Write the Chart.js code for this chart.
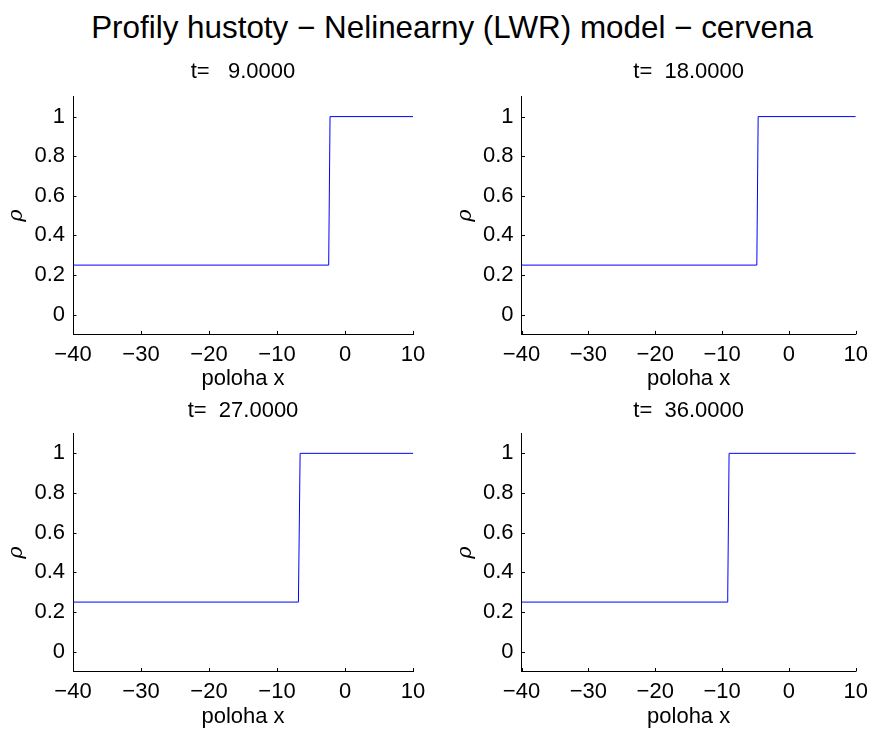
<!DOCTYPE html>
<html>
<head>
<meta charset="utf-8">
<script src="https://cdn.jsdelivr.net/npm/chart.js@4.4.1/dist/chart.umd.min.js"></script>
<style>
  html, body { margin: 0; padding: 0; background: #ffffff; }
  body { width: 875px; height: 729px; position: relative; overflow: hidden; font-family: "Liberation Sans", Arial, sans-serif; }
  canvas { position: absolute; }
  #mainTitle { position: absolute; left: 0; width: 904px; top: 10px; text-align: center; font-size: 31.4px; line-height: 36px; color: #000; white-space: pre; }
</style>
</head>
<body>
<div id="mainTitle">Profily hustoty − Nelinearny (LWR) model − cervena</div>
<canvas id="c0" width="437" height="355" style="left:0px;top:45px"></canvas>
<canvas id="c1" width="438" height="355" style="left:437px;top:45px"></canvas>
<canvas id="c2" width="437" height="339" style="left:0px;top:390px"></canvas>
<canvas id="c3" width="438" height="339" style="left:437px;top:390px"></canvas>
<script>
// ---- data ----
const panelTitles = ['t=   9.0000', 't=  18.0000', 't=  27.0000', 't=  36.0000'];
const xLabel = 'poloha x';
const yLabel = 'ρ';
const xTickValues = [-40, -30, -20, -10, 0, 10];
const xTickLabels = ['−40', '−30', '−20', '−10', '0', '10'];
const yTickValues = [0, 0.2, 0.4, 0.6, 0.8, 1];
const yTickLabels = ['0', '0.2', '0.4', '0.6', '0.8', '1'];

const x_t9  = [-40, -2.4, -2.2, 10];
const rho_t9  = [0.25, 0.25, 1, 1];
const x_t18 = [-40, -4.8, -4.6, 10];
const rho_t18 = [0.25, 0.25, 1, 1];
const x_t27 = [-40, -6.85, -6.6, 10];
const rho_t27 = [0.25, 0.25, 1, 1];
const x_t36 = [-40, -9.25, -9.15, -8.95, 10];
const rho_t36 = [0.25, 0.25, 0.29, 1, 1];

const seriesX = [x_t9, x_t18, x_t27, x_t36];
const seriesY = [rho_t9, rho_t18, rho_t27, rho_t36];

// ---- layout (page coordinates of each plot area) ----
const canvasPos = [
  {cx: 0,   cy: 45,  cw: 437, ch: 355},
  {cx: 437, cy: 45,  cw: 438, ch: 355},
  {cx: 0,   cy: 390, cw: 437, ch: 339},
  {cx: 437, cy: 390, cw: 438, ch: 339}
];
const plotArea = [
  {L: 73,    T: 96.8,  R: 413,   B: 334.4},
  {L: 521.5, T: 96.8,  R: 861.5, B: 334.4},
  {L: 73,    T: 433.5, R: 413,   B: 671.5},
  {L: 521.5, T: 433.5, R: 861.5, B: 671.5}
];
const Y_AXIS_W = 70;
const X_AXIS_H = 50;

const FONT = '"Liberation Sans", Arial, sans-serif';
const FS = 22;

const panelText = {
  id: 'panelText',
  afterDraw(chart, args, opts) {
    const ctx = chart.ctx;
    const a = chart.chartArea;
    const xs = chart.scales.x, ys = chart.scales.y;
    ctx.save();
    // inward tick marks
    ctx.strokeStyle = '#000';
    ctx.lineWidth = 1;
    ctx.beginPath();
    xTickValues.forEach(v => {
      const px = Math.round(xs.getPixelForValue(v)) + 0.5;
      ctx.moveTo(px, a.bottom);
      ctx.lineTo(px, a.bottom - 3.5);
    });
    yTickValues.forEach(v => {
      const py = Math.round(ys.getPixelForValue(v)) + 0.5;
      ctx.moveTo(a.left, py);
      ctx.lineTo(a.left + 3.5, py);
    });
    ctx.stroke();
    // titles
    ctx.fillStyle = '#000';
    ctx.font = FS + 'px ' + FONT;
    ctx.textAlign = 'center';
    ctx.textBaseline = 'alphabetic';
    const cxm = (a.left + a.right) / 2;
    ctx.fillText(opts.title, cxm, a.top - opts.titleGap);
    ctx.fillText(xLabel, cxm, a.bottom + 51);
    // y label
    ctx.translate(a.left - 56, (a.top + a.bottom) / 2);
    ctx.rotate(-Math.PI / 2);
    ctx.font = 'italic 21px "DejaVu Serif", "Liberation Serif", serif';
    ctx.textBaseline = 'middle';
    ctx.fillText(yLabel, 0, 0);
    ctx.restore();
  }
};

for (let i = 0; i < 4; i++) {
  const cp = canvasPos[i], pa = plotArea[i];
  const pts = seriesX[i].map((x, k) => ({x: x, y: seriesY[i][k]}));
  new Chart(document.getElementById('c' + i), {
    type: 'line',
    data: {
      datasets: [{
        data: pts,
        borderColor: '#0000ff',
        borderWidth: 1,
        pointRadius: 0,
        tension: 0,
        fill: false
      }]
    },
    options: {
      responsive: false,
      animation: false,
      devicePixelRatio: 1,
      layout: {
        padding: {
          left: pa.L - cp.cx - Y_AXIS_W,
          top: pa.T - cp.cy,
          right: cp.cx + cp.cw - pa.R,
          bottom: cp.cy + cp.ch - pa.B - X_AXIS_H
        }
      },
      plugins: {
        legend: {display: false},
        tooltip: {enabled: false},
        title: {display: false},
        panelText: {title: panelTitles[i], titleGap: i < 2 ? 18.5 : 16.8}
      },
      scales: {
        x: {
          type: 'linear',
          position: 'bottom',
          min: -40, max: 10,
          afterFit: s => { s.height = X_AXIS_H; },
          afterBuildTicks: s => { s.ticks = xTickValues.map(v => ({value: v})); },
          grid: {display: false, drawTicks: false},
          border: {display: true, color: '#000', width: 1},
          ticks: {
            autoSkip: false, maxRotation: 0, minRotation: 0, padding: 7,
            color: '#000',
            font: {family: FONT, size: FS},
            callback: (v, idx) => xTickLabels[idx]
          }
        },
        y: {
          type: 'linear',
          position: 'left',
          min: -0.1, max: 1.1,
          afterFit: s => { s.width = Y_AXIS_W; },
          afterBuildTicks: s => { s.ticks = yTickValues.map(v => ({value: v})); },
          grid: {display: false, drawTicks: false},
          border: {display: true, color: '#000', width: 1},
          ticks: {
            autoSkip: false, padding: 8,
            color: '#000',
            font: {family: FONT, size: FS},
            callback: (v, idx) => yTickLabels[idx]
          }
        }
      }
    },
    plugins: [panelText]
  });
}
</script>
</body>
</html>
